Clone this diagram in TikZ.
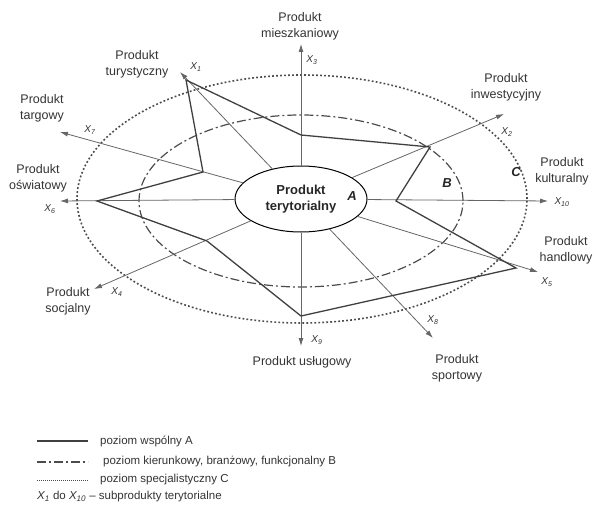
\documentclass[tikz,border=0pt]{standalone}
\usepackage{fontspec}
\setmainfont{Liberation Sans}
\usetikzlibrary{arrows.meta,shapes.geometric}

\newcommand{\xsub}[1]{{\itshape X\textsubscript{#1}}}

\begin{document}
\begin{tikzpicture}[x=1pt, y=-1pt,
  font=\fontsize{12.5}{16}\selectfont, >={Latex[length=8pt,width=5pt]},
  prod/.style={align=center, inner sep=0pt, text=black!80},
  xlab/.style={font=\fontsize{10}{10}\selectfont, inner sep=0pt, text=black!80},
  axis/.style={->, draw=black!60, line width=0.8pt},
  levelA/.style={draw=black!75, line width=1.3pt},
  levelB/.style={draw=black!70, line width=1.2pt, dash pattern=on 9pt off 3pt on 2pt off 3pt},
  levelC/.style={draw=black!70, line width=1.6pt, dash pattern=on 1.8pt off 2.2pt},
  levtag/.style={font=\fontsize{13}{13}\selectfont\bfseries\itshape, text=black!85},
  legtext/.style={anchor=west, font=\fontsize{11.5}{11.5}\selectfont, inner sep=0pt, text=black!80},
]
\useasboundingbox (0,0) rectangle (596,513);

% ---------- levels C and B ----------
\draw[levelC] (302,199) ellipse [x radius=225pt, y radius=124pt];
\draw[levelB] (301,201) ellipse [x radius=162pt, y radius=86pt];

% ---------- centre ----------
\node[draw, ellipse, line width=1pt, minimum width=132pt, minimum height=66pt,
  font=\fontsize{13}{16}\selectfont\bfseries, align=center, text=black!85] (terr) at (301,199) {Produkt\\terytorialny};

% ---------- axes X1..X10 ----------
\coordinate (t1)  at (180,72);
\coordinate (t2)  at (504,114);
\coordinate (t3)  at (301,44);
\coordinate (t4)  at (94,289);
\coordinate (t5)  at (538,272);
\coordinate (t6)  at (60,201);
\coordinate (t7)  at (60,132);
\coordinate (t8)  at (433,338);
\coordinate (t9)  at (301,346);
\coordinate (t10) at (548,201);
\draw[axis] (terr) -- (t1);
\draw[axis] (terr) -- (t2);
\draw[axis] (terr) -- (t3);
\draw[axis] (terr) -- (t4);
\draw[axis] (terr) -- (t5);
\draw[axis] (terr) -- (t6);
\draw[axis] (terr) -- (t7);
\draw[axis] (terr) -- (t8);
\draw[axis] (terr) -- (t9);
\draw[axis] (terr) -- (t10);

% ---------- level A (star) ----------
\coordinate (v1)  at (186,80);
\coordinate (v3)  at (301,135);
\coordinate (v2)  at (430,147);
\coordinate (v10) at (396,201);
\coordinate (v5)  at (516,268);
\coordinate (v9)  at (301,316);
\coordinate (v4)  at (207,241);
\coordinate (v6)  at (97,201);
\coordinate (v7)  at (203,172);
\draw[levelA] (v1) -- (v3) -- (v2) -- (v10) -- (v5) -- (v9) -- (v4) -- (v6) -- (v7) -- cycle;

\node[levtag] (lA) at (352,196) {A};
\node[levtag] (lB) at (447,183) {B};
\node[levtag] (lC) at (516,172) {C};

% ---------- axis names ----------
\node[xlab] (n1)  at (196,67)  {\xsub{1}};
\node[xlab] (n2)  at (507,132) {\xsub{2}};
\node[xlab] (n3)  at (312,60)  {\xsub{3}};
\node[xlab] (n4)  at (117,292) {\xsub{4}};
\node[xlab] (n5)  at (547,282) {\xsub{5}};
\node[xlab] (n6)  at (50,209)  {\xsub{6}};
\node[xlab] (n7)  at (90,130)  {\xsub{7}};
\node[xlab] (n8)  at (433,320) {\xsub{8}};
\node[xlab] (n9)  at (317,340) {\xsub{9}};
\node[xlab] (n10) at (562,202) {\xsub{10}};

% ---------- product names ----------
\node[prod] (p1)  at (137,64)  {Produkt\\turystyczny};
\node[prod] (p2)  at (506,87)  {Produkt\\inwestycyjny};
\node[prod] (p3)  at (300,26)  {Produkt\\mieszkaniowy};
\node[prod] (p4)  at (68,301)  {Produkt\\socjalny};
\node[prod] (p5)  at (566,250) {Produkt\\handlowy};
\node[prod] (p6)  at (38,178)  {Produkt\\oświatowy};
\node[prod] (p7)  at (42,108)  {Produkt\\targowy};
\node[prod] (p8)  at (457,368) {Produkt\\sportowy};
\node[prod] (p9)  at (302,362) {Produkt usługowy};
\node[prod] (p10) at (562,171) {Produkt\\kulturalny};

% ---------- legend ----------
\coordinate (la1) at (37,441); \coordinate (lb1) at (88,441);
\coordinate (la2) at (37,462); \coordinate (lb2) at (88,462);
\coordinate (la3) at (37,480); \coordinate (lb3) at (88,480);
\draw[levelA] (la1) -- (lb1);
\draw[levelB] (la2) -- (lb2);
\draw[levelC, line width=1pt, dash pattern=on 1pt off 1pt] (la3) -- (lb3);
\node[legtext] (g1) at (100,441) {poziom wspólny A};
\node[legtext] (g2) at (103,462) {poziom kierunkowy, branżowy, funkcjonalny B};
\node[legtext] (g3) at (100,480) {poziom specjalistyczny C};
\node[legtext] (g4) at (37,497) {\xsub{1} do \xsub{10} – subprodukty terytorialne};
\end{tikzpicture}
\end{document}
